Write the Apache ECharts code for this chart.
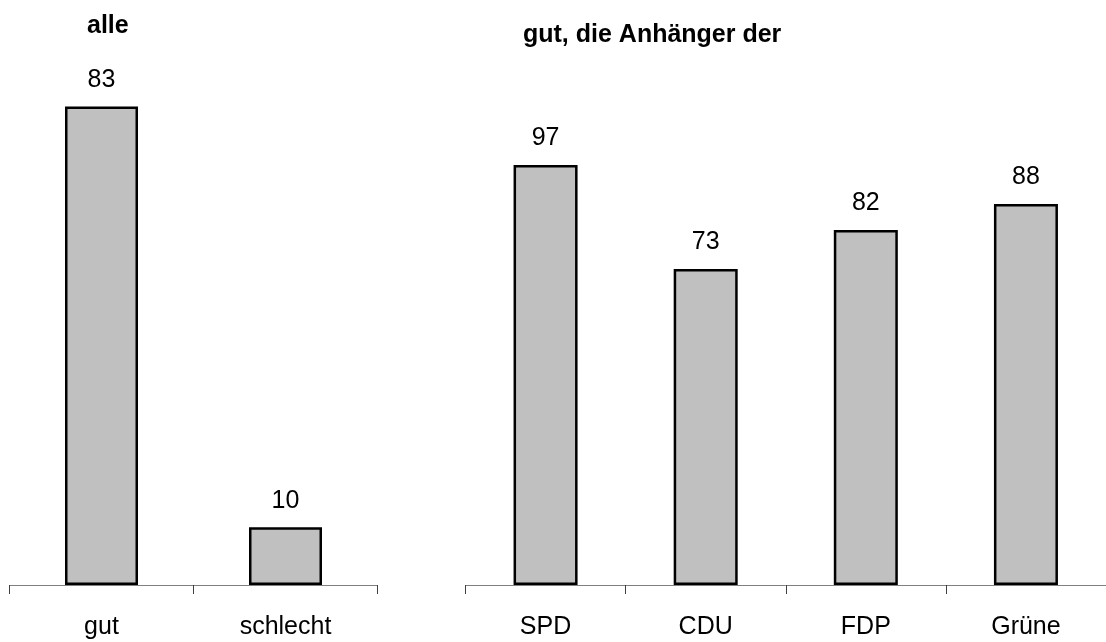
<!DOCTYPE html>
<html>
<head>
<meta charset="utf-8">
<script src="https://cdn.jsdelivr.net/npm/echarts@6/dist/echarts.min.js"></script>
<style>
  html, body { margin: 0; padding: 0; background: #fff; }
  #chart { width: 1106px; height: 642px; }
</style>
</head>
<body>
<div id="chart"></div>
<script>
const leftCategories = ['gut', 'schlecht']
const leftValues = [83, 10]
const rightCategories = ['SPD', 'CDU', 'FDP', 'Grüne']
const rightValues = [97, 73, 82, 88]
const leftTitle = 'alle'
const rightTitle = 'gut, die Anhänger der'

const FONT = '"Liberation Sans", Arial, sans-serif'

const chart = echarts.init(document.getElementById('chart'))

function xAxisFor(gridIndex, data) {
  return {
    type: 'category',
    gridIndex,
    data,
    axisLine: { lineStyle: { color: '#808080', width: 1 } },
    axisTick: { show: true, length: 9, lineStyle: { color: '#404040' } },
    axisLabel: { color: '#000', fontSize: 25, fontFamily: FONT, margin: 30 },
  }
}

function yAxisFor(gridIndex) {
  return {
    type: 'value',
    gridIndex,
    min: 0,
    max: 100,
    show: false,
    splitLine: { show: false },
  }
}

function barSeries(idx, data, width) {
  return {
    type: 'bar',
    xAxisIndex: idx,
    yAxisIndex: idx,
    data,
    barWidth: width,
    itemStyle: { color: '#c0c0c0', borderColor: '#000', borderWidth: 2.5 },
    label: {
      show: true,
      position: 'top',
      distance: 14,
      color: '#000',
      fontSize: 25,
      fontFamily: FONT,
    },
    silent: true,
  }
}

chart.setOption({
  animation: false,
  title: [
    { text: leftTitle, left: 82, top: 9, textStyle: { fontSize: 25, fontWeight: 'bold', color: '#000', fontFamily: FONT } },
    { text: rightTitle, left: 518, top: 18, textStyle: { fontSize: 25, fontWeight: 'bold', color: '#000', fontFamily: FONT } },
  ],
  grid: [
    { left: 9.5, width: 368, top: 8.5, height: 576.5 },
    { left: 465.5, width: 647, top: 152, height: 433 },
  ],
  xAxis: [xAxisFor(0, leftCategories), xAxisFor(1, rightCategories)],
  yAxis: [yAxisFor(0), yAxisFor(1)],
  series: [barSeries(0, leftValues, 73), barSeries(1, rightValues, 64)],
})
</script>
</body>
</html>
